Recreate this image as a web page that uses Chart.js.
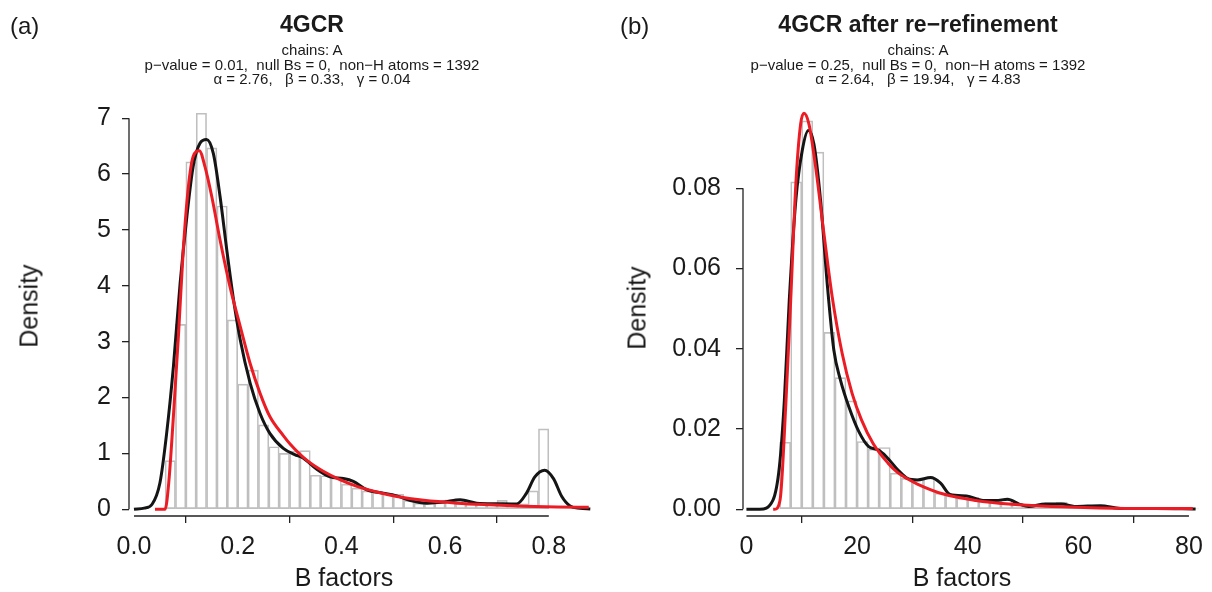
<!DOCTYPE html>
<html>
<head>
<meta charset="utf-8">
<title>4GCR B factors</title>
<script src="https://cdn.jsdelivr.net/npm/chart.js@4.4.1/dist/chart.umd.min.js"></script>
<style>
  body { margin: 0; background: #fff; }
  #page { position: relative; width: 1212px; height: 592px; overflow: hidden;
          font-family: "Liberation Sans", Arial, Helvetica, sans-serif; color: #1a1a1a; }
  canvas { position: absolute; top: 0; }
  .txt { position: absolute; white-space: pre; line-height: 1; transform: translate(-50%, -50%); }
  .tag { font-size: 24px; transform: translateY(-50%); }
  .main { font-size: 23px; font-weight: bold; }
  .sub { font-size: 15px; }
  .axis { font-size: 25px; }
  .ylab { transform: translate(-50%, -50%) rotate(-90deg); }
</style>
</head>
<body>
<div id="page">
  <canvas id="chartA" width="606" height="592" style="left:0"></canvas>
  <canvas id="chartB" width="606" height="592" style="left:606px"></canvas>

  <div class="txt tag" style="left:10px;top:26px">(a)</div>
  <div class="txt main" style="left:312px;top:24px">4GCR</div>
  <div class="txt sub" style="left:312px;top:49px">chains: A</div>
  <div class="txt sub" style="left:312px;top:64px">p−value = 0.01,  null Bs = 0,  non−H atoms = 1392</div>
  <div class="txt sub" style="left:312px;top:78px">α = 2.76,   β = 0.33,   γ = 0.04</div>
  <div class="txt axis ylab" style="left:29px;top:306px">Density</div>
  <div class="txt axis" style="left:344px;top:577px">B factors</div>

  <div class="txt tag" style="left:620px;top:26px">(b)</div>
  <div class="txt main" style="left:918px;top:24px">4GCR after re−refinement</div>
  <div class="txt sub" style="left:918px;top:49px">chains: A</div>
  <div class="txt sub" style="left:918px;top:64px">p−value = 0.25,  null Bs = 0,  non−H atoms = 1392</div>
  <div class="txt sub" style="left:918px;top:78px">α = 2.64,   β = 19.94,   γ = 4.83</div>
  <div class="txt axis ylab" style="left:637px;top:308px">Density</div>
  <div class="txt axis" style="left:962px;top:577px">B factors</div>
</div>

<script>
// (a) 4GCR — histogram bins (centres, width 0.02) and densities
const leftBins = [0.07, 0.09, 0.11, 0.13, 0.15, 0.17, 0.19, 0.21, 0.23, 0.25, 0.27, 0.29, 0.31, 0.33, 0.35, 0.37, 0.39,
  0.41, 0.43, 0.45, 0.47, 0.49, 0.51, 0.53, 0.55, 0.57, 0.59, 0.61, 0.63, 0.65, 0.67, 0.69, 0.71, 0.73, 0.75, 0.77, 0.79];
const leftHist = [0.87, 3.31, 6.22, 7.09, 6.47, 5.43, 3.39, 2.24, 2.49, 1.51, 1.12, 1.00, 1.04, 1.05, 0.61, 0.60, 0.56,
  0.45, 0.38, 0.33, 0.30, 0.29, 0.27, 0.16, 0.11, 0.11, 0.12, 0.17, 0.17, 0.11, 0.10, 0.10, 0.16, 0.10, 0.10, 0.33, 1.44];
// kernel density (black)
const leftKdeX = [0.00, 0.02, 0.035, 0.05, 0.063, 0.076, 0.089, 0.102, 0.114, 0.127, 0.140, 0.153, 0.166, 0.179, 0.192,
  0.205, 0.224, 0.243, 0.262, 0.288, 0.310, 0.326, 0.352, 0.378, 0.404, 0.423, 0.449, 0.481, 0.507, 0.533, 0.565, 0.597,
  0.629, 0.661, 0.700, 0.738, 0.757, 0.773, 0.792, 0.809, 0.825, 0.841, 0.860, 0.880];
const leftKdeY = [0.00, 0.02, 0.09, 0.47, 1.36, 2.55, 4.05, 5.24, 6.13, 6.55, 6.62, 6.37, 5.60, 4.64, 3.75,
  3.03, 2.26, 1.72, 1.36, 1.09, 0.98, 0.92, 0.72, 0.58, 0.55, 0.50, 0.35, 0.29, 0.24, 0.155, 0.11, 0.13,
  0.17, 0.11, 0.10, 0.095, 0.29, 0.58, 0.70, 0.55, 0.23, 0.06, 0.02, 0.005];
// fitted shifted inverse-gamma (red)
const leftFitX = [0.0405, 0.060, 0.067, 0.076, 0.086, 0.095, 0.105, 0.114, 0.126, 0.137, 0.150, 0.166, 0.185, 0.205,
  0.224, 0.243, 0.262, 0.288, 0.301, 0.333, 0.365, 0.397, 0.430, 0.468, 0.507, 0.559, 0.623, 0.687, 0.751, 0.816, 0.877];
const leftFitY = [0, 0, 0.47, 1.66, 3.15, 4.64, 5.78, 6.31, 6.42, 6.13, 5.60, 4.82, 3.99, 3.27,
  2.61, 2.08, 1.66, 1.32, 1.17, 0.88, 0.68, 0.53, 0.41, 0.31, 0.23, 0.16, 0.11, 0.08, 0.056, 0.042, 0.035];
const leftXTicks = [0, 0.2, 0.4, 0.6, 0.8];
const leftXLabels = ['0.0', '0.2', '0.4', '0.6', '0.8'];
const leftYTicks = [0, 1, 2, 3, 4, 5, 6, 7];
const leftYLabels = ['0', '1', '2', '3', '4', '5', '6', '7'];

// (b) 4GCR after re-refinement — bins of width 2
const rightBins = [7, 9, 11, 13, 15, 17, 19, 21, 23, 25, 27, 29, 31, 33, 35, 37, 39, 41, 43, 45, 47, 49, 51, 53, 55,
  57, 59, 61, 63, 65, 67, 69, 71, 73, 75, 77, 79, 81];
const rightHist = [0.0167, 0.0816, 0.0968, 0.0890, 0.0441, 0.0328, 0.0270, 0.0169, 0.0150, 0.0154, 0.0090, 0.0077,
  0.0076, 0.0078, 0.0040, 0.0036, 0.0028, 0.0030, 0.0022, 0.0020, 0.0024, 0.0014, 0.0010, 0.0012, 0.0016,
  0.0018, 0.0006, 0.0005, 0.0007, 0.0006, 0.0003, 0.0002, 0.0002, 0.0001, 0.0001, 0.0001, 0.0001, 0.0001];
const rightKdeX = [0, 2.4, 4.8, 5.96, 6.85, 7.74, 8.93, 10.1, 11.2, 12.2, 13.4, 14.6, 15.8, 17.0, 18.5, 20.3, 22.1,
  23.8, 25.3, 27.4, 29.1, 30.9, 33.3, 35.1, 36.8, 39.8, 42.8, 45.1, 47.2, 49.3, 51.0, 54.0, 57.0, 59.3, 64.0, 67.6,
  74.1, 81.2];
const rightKdeY = [0, 0, 0.0023, 0.0106, 0.027, 0.052, 0.077, 0.0895, 0.0944, 0.091, 0.077, 0.0563, 0.0397, 0.0322,
  0.0256, 0.0194, 0.0156, 0.0148, 0.0131, 0.0098, 0.0077, 0.0073, 0.0079, 0.0065, 0.0037, 0.0033, 0.0022, 0.0022,
  0.0025, 0.0013, 0.0007, 0.0013, 0.0013, 0.0007, 0.0009, 0.0002, 0.0002, 0.0001];
const rightFitX = [4.83, 5.1, 6.08, 7.15, 8.0, 8.93, 9.8, 10.4, 11.3, 12.5, 14.0, 15.5, 17.3, 19.1, 20.8, 22.9, 25.6,
  27.3, 29.1, 30.9, 35.6, 41.5, 47.4, 53.4, 62.3, 71.2, 80.7];
const rightFitY = [0, 0, 0.0023, 0.027, 0.052, 0.081, 0.096, 0.0987, 0.096, 0.0854, 0.0688, 0.053, 0.0389, 0.0289,
  0.0223, 0.0164, 0.0115, 0.0092, 0.0076, 0.0063, 0.0038, 0.0022, 0.0013, 0.0008, 0.0004, 0.0002, 0.0002];
const rightXTicks = [0, 20, 40, 60, 80];
const rightXLabels = ['0', '20', '40', '60', '80'];
const rightYTicks = [0, 0.02, 0.04, 0.06, 0.08];
const rightYLabels = ['0.00', '0.02', '0.04', '0.06', '0.08'];

Chart.defaults.font.family = '"Liberation Sans", Arial, Helvetica, sans-serif';
Chart.defaults.color = '#1a1a1a';

function toPoints(xs, ys) {
  return xs.map((x, i) => ({ x: x, y: ys[i] }));
}

// R-style axis: line runs only from the first to the last tick
const rAxisLines = {
  id: 'rAxisLines',
  afterDraw(chart) {
    const { ctx, chartArea, scales } = chart;
    const xt = scales.x.ticks, yt = scales.y.ticks;
    ctx.save();
    ctx.strokeStyle = '#222';
    ctx.lineWidth = 1.3;
    ctx.beginPath();
    ctx.moveTo(scales.x.getPixelForValue(xt[0].value), chartArea.bottom);
    ctx.lineTo(scales.x.getPixelForValue(xt[xt.length - 1].value), chartArea.bottom);
    ctx.moveTo(chartArea.left, scales.y.getPixelForValue(yt[0].value));
    ctx.lineTo(chartArea.left, scales.y.getPixelForValue(yt[yt.length - 1].value));
    ctx.stroke();
    ctx.restore();
  }
};

function makePanel(id, p) {
  const ctx = document.getElementById(id).getContext('2d');
  return new Chart(ctx, {
    type: 'bar',
    data: {
      datasets: [
        {
          type: 'line',
          data: toPoints(p.fitX, p.fitY),
          borderColor: '#ec1c24',
          borderWidth: 3,
          pointRadius: 0,
          cubicInterpolationMode: 'monotone',
          order: 1
        },
        {
          type: 'line',
          data: toPoints(p.kdeX, p.kdeY),
          borderColor: '#151515',
          borderWidth: 3,
          pointRadius: 0,
          cubicInterpolationMode: 'monotone',
          order: 2
        },
        {
          type: 'bar',
          data: toPoints(p.bins, p.hist),
          backgroundColor: 'rgba(255,255,255,0)',
          borderColor: '#bfbfbf',
          borderWidth: 1,
          borderSkipped: false,
          barPercentage: 1,
          categoryPercentage: 1,
          order: 3
        }
      ]
    },
    options: {
      responsive: false,
      animation: false,
      events: [],
      layout: { padding: { top: 110, right: 6, bottom: 0, left: 0 } },
      plugins: {
        legend: { display: false },
        tooltip: { enabled: false }
      },
      scales: {
        x: {
          type: 'linear',
          min: p.xMin,
          max: p.xMax,
          offset: false,
          afterBuildTicks: s => { s.ticks = p.xTicks.map(v => ({ value: v })); },
          afterFit: s => { s.height = 76; },
          ticks: {
            autoSkip: false,
            maxRotation: 0,
            padding: 9,
            font: { size: 25 },
            callback: (v, i) => p.xLabels[i]
          },
          grid: { drawOnChartArea: false, tickLength: 7, color: '#222', lineWidth: 1.3 },
          border: { display: false }
        },
        y: {
          type: 'linear',
          min: p.yMin,
          max: p.yMax,
          afterBuildTicks: s => { s.ticks = p.yTicks.map(v => ({ value: v })); },
          afterFit: s => { s.width = p.yWidth; },
          ticks: {
            autoSkip: false,
            padding: p.yPad,
            font: { size: 25 },
            callback: (v, i) => p.yLabels[i]
          },
          grid: { drawOnChartArea: false, tickLength: 7, color: '#222', lineWidth: 1.3 },
          border: { display: false }
        }
      }
    },
    plugins: [rAxisLines]
  });
}

makePanel('chartA', {
  bins: leftBins, hist: leftHist,
  kdeX: leftKdeX, kdeY: leftKdeY,
  fitX: leftFitX, fitY: leftFitY,
  xTicks: leftXTicks, xLabels: leftXLabels,
  yTicks: leftYTicks, yLabels: leftYLabels,
  xMin: -0.0096, xMax: 0.8987,
  yMin: -0.12, yMax: 7.148,
  yWidth: 129, yPad: 11
});

makePanel('chartB', {
  bins: rightBins, hist: rightHist,
  kdeX: rightKdeX, kdeY: rightKdeY,
  fitX: rightFitX, fitY: rightFitY,
  xTicks: rightXTicks, xLabels: rightXLabels,
  yTicks: rightYTicks, yLabels: rightYLabels,
  xMin: -0.62, xMax: 81.76,
  yMin: -0.00167, yMax: 0.0995,
  yWidth: 137, yPad: 15
});
</script>
</body>
</html>
